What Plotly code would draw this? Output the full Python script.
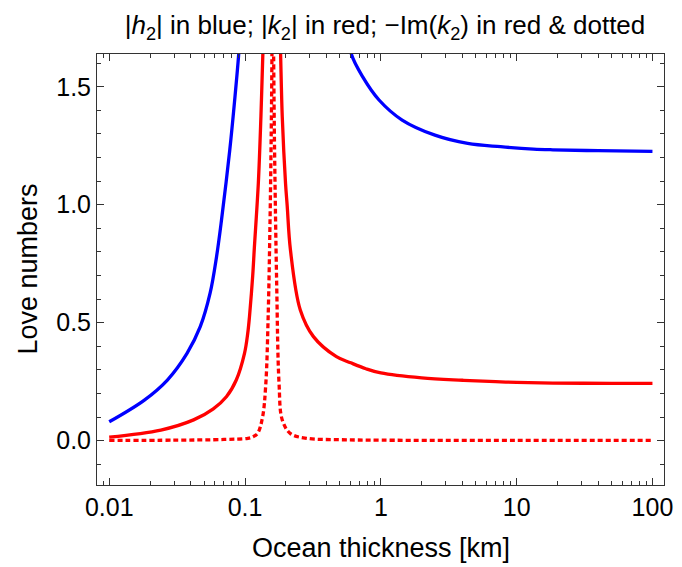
import plotly.graph_objects as go

# ---- data (x: ocean thickness in km) ----
h2_left_x = [0.01, 0.01815, 0.0268, 0.0374, 0.0468, 0.0553, 0.0617, 0.0671, 0.0772, 0.0839, 0.0897, 0.0915]
h2_left_y = [0.080, 0.172, 0.257, 0.370, 0.483, 0.625, 0.780, 0.935, 1.232, 1.444, 1.634, 1.72]

h2_right_x = [0.59, 0.605, 0.7356, 0.970, 1.435, 2.502, 4.36, 7.62, 13.28, 18.5, 40, 100]
h2_right_y = [1.72, 1.641, 1.542, 1.444, 1.359, 1.295, 1.260, 1.246, 1.236, 1.233, 1.229, 1.226]

k2_left_x = [0.01, 0.024, 0.0418, 0.0584, 0.0729, 0.0862, 0.0991, 0.1047, 0.1078, 0.1139, 0.1172, 0.1253, 0.1309, 0.1353, 0.137]
k2_left_y = [0.015, 0.045, 0.088, 0.135, 0.186, 0.257, 0.370, 0.455, 0.525, 0.700, 0.820, 1.091, 1.373, 1.641, 1.72]

k2_right_x = [0.181, 0.1827, 0.188, 0.1987, 0.2044, 0.216, 0.2552, 0.319, 0.471, 0.60, 0.776, 1.0, 2.0, 4.0, 7.0, 10.0, 18.5, 50, 100]
k2_right_y = [1.72, 1.641, 1.373, 1.091, 0.995, 0.808, 0.554, 0.441, 0.356, 0.330, 0.305, 0.287, 0.266, 0.256, 0.250, 0.247, 0.244, 0.243, 0.243]

imk2_x = [0.01, 0.03, 0.07, 0.105, 0.114, 0.1238, 0.1346, 0.1423, 0.148, 0.153, 0.1564, 0.160,
          0.165, 0.171, 0.178, 0.188, 0.216, 0.284, 0.5, 1.0, 10.0, 100.0]
imk2_y = [0.001, 0.002, 0.005, 0.010, 0.016, 0.031, 0.100, 0.243, 0.525, 0.950, 1.373, 1.90,
          1.232, 0.667, 0.243, 0.088, 0.030, 0.010, 0.004, 0.002, 0.001, 0.001]

BLUE = "#0000FF"
RED = "#FF0000"
FONT = "Liberation Sans, Arial, sans-serif"
FRAME = "#333333"

W, H = 682, 567
L, R, T, B = 97, 9, 54, 82

fig = go.Figure()
for xs, ys, col, dash in [
    (h2_left_x, h2_left_y, BLUE, "solid"),
    (h2_right_x, h2_right_y, BLUE, "solid"),
    (k2_left_x, k2_left_y, RED, "solid"),
    (k2_right_x, k2_right_y, RED, "solid"),
    (imk2_x, imk2_y, RED, "5px,3px"),
]:
    fig.add_trace(go.Scatter(x=xs, y=ys, mode="lines",
                             line=dict(color=col, width=3.3, dash=dash, shape="spline", smoothing=1.0),
                             showlegend=False, hoverinfo="skip"))

fig.update_xaxes(type="log", range=[-2.09, 2.085],
                 dtick=1, tickfont=dict(family=FONT, size=25, color="black"),
                 ticklabeloverflow="allow",
                 ticks="inside", ticklen=7, tickwidth=1, tickcolor=FRAME,
                 minor=dict(ticks="inside", ticklen=4, tickwidth=1, tickcolor=FRAME, dtick="D1", showgrid=False),
                 showline=True, linecolor=FRAME, linewidth=1, mirror="ticks",
                 showgrid=False, zeroline=False)
fig.update_yaxes(range=[-0.188, 1.639], tick0=0, dtick=0.5, tickformat=".1f",
                 tickfont=dict(family=FONT, size=25, color="black"),
                 ticks="inside", ticklen=7, tickwidth=1, tickcolor=FRAME,
                 minor=dict(ticks="inside", ticklen=4, tickwidth=1, tickcolor=FRAME, dtick=0.1, showgrid=False),
                 showline=True, linecolor=FRAME, linewidth=1, mirror="ticks",
                 showgrid=False, zeroline=False)

pw, ph = W - L - R, H - T - B
fig.add_annotation(text="Love numbers", textangle=-90, showarrow=False,
                   xref="paper", yref="paper", x=(26 - L) / pw, y=0.5,
                   xanchor="center", yanchor="middle",
                   font=dict(family=FONT, size=27, color="black"))
fig.add_annotation(text="Ocean thickness [km]", showarrow=False,
                   xref="paper", yref="paper", x=0.5, y=-(548 - (T + ph)) / ph,
                   xanchor="center", yanchor="middle",
                   font=dict(family=FONT, size=27, color="black"))

fig.update_layout(
    width=W, height=H, margin=dict(l=L, r=R, t=T, b=B),
    plot_bgcolor="white", paper_bgcolor="white",
    title=dict(text="|<i>h</i><sub>2</sub>| in blue; |<i>k</i><sub>2</sub>| in red; \u2212Im(<i>k</i><sub>2</sub>) in red &amp; dotted",
               x=(L + pw / 2) / W, xanchor="center", y=1 - 25 / H, yanchor="middle",
               font=dict(family=FONT, size=26, color="black")),
)

fig.write_html("out.html")
